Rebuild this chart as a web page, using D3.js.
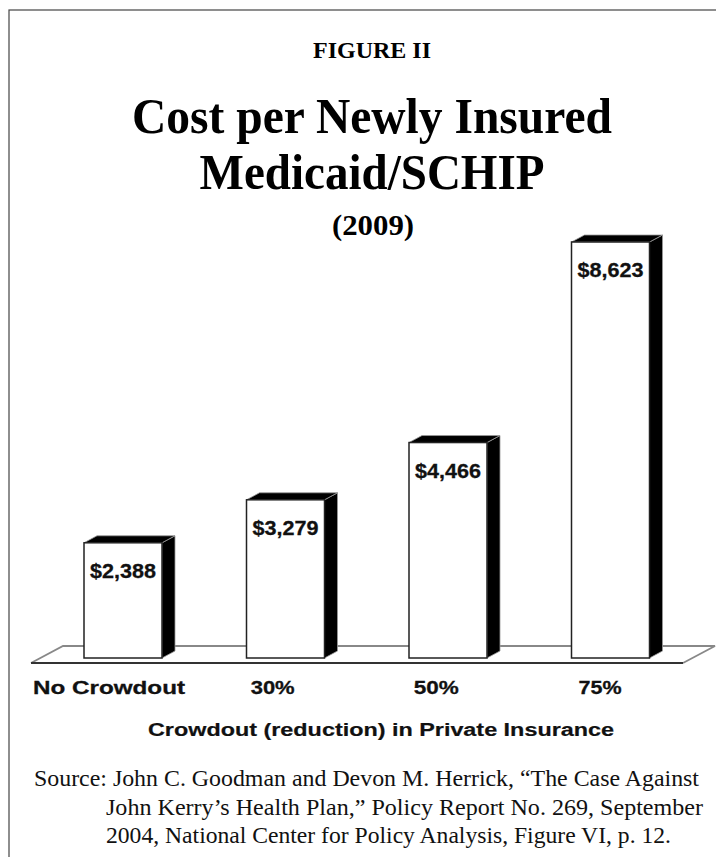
<!DOCTYPE html>
<html>
<head>
<meta charset="utf-8">
<script src="https://cdn.jsdelivr.net/npm/d3@7"></script>
<style>
  html, body { margin: 0; padding: 0; background: #fff; }
  svg { display: block; }
</style>
</head>
<body>
<svg id="chart" width="716" height="857"></svg>
<script>
// ---- data ----
const categories = ["No Crowdout", "30%", "50%", "75%"];
const costs = [2388, 3279, 4466, 8623];
const valueLabels = ["$2,388", "$3,279", "$4,466", "$8,623"];
const figureLabel = "FIGURE II";
const titleLines = ["Cost per Newly Insured", "Medicaid/SCHIP"];
const subtitle = "(2009)";
const xAxisTitle = "Crowdout  (reduction)  in  Private  Insurance";
const sourceLines = [
  "Source: John C. Goodman and Devon M. Herrick, \u201CThe Case Against",
  "John Kerry\u2019s Health Plan,\u201D Policy Report No. 269, September",
  "2004, National Center for Policy Analysis, Figure VI, p. 12."
];

// ---- layout ----
const svg = d3.select("#chart");
const serif = "'Liberation Serif', 'Times New Roman', serif";
const sans = "'Liberation Sans', Arial, sans-serif";
const barW = 78, depthX = 13, depthY = -7;
const baseY = 658;
const cx = 372;

const x = d3.scalePoint().domain(categories).range([123, 610.5]);
const xLab = d3.scalePoint().domain(categories).range([109, 600]);
const y = d3.scaleLinear().domain([0, 8623]).range([baseY, 242]);

// frame
svg.append("rect").attr("x", 9).attr("y", 10).attr("width", 720).attr("height", 860)
  .attr("fill", "none").attr("stroke", "#444").attr("stroke-width", 1.2);

// titles
svg.append("text").attr("x", cx).attr("y", 58).attr("text-anchor", "middle")
  .attr("font-family", serif).attr("font-weight", "bold").attr("font-size", 24)
  .attr("textLength", 118).attr("lengthAdjust", "spacingAndGlyphs").text(figureLabel);
const titleW = [480, 345];
svg.selectAll("text.title").data(titleLines).join("text").attr("class", "title")
  .attr("x", cx).attr("y", (d, i) => 133 + i * 56).attr("text-anchor", "middle")
  .attr("font-family", serif).attr("font-weight", "bold").attr("font-size", 50)
  .attr("textLength", (d, i) => titleW[i]).attr("lengthAdjust", "spacingAndGlyphs")
  .text(d => d);
svg.append("text").attr("x", cx + 1).attr("y", 235).attr("text-anchor", "middle")
  .attr("font-family", serif).attr("font-weight", "bold").attr("font-size", 30)
  .attr("textLength", 82).attr("lengthAdjust", "spacingAndGlyphs")
  .text(subtitle);

// floor
const floorL = 31, floorR = 683, floorFront = 663, floorDX = 32, floorDY = -17;
svg.append("path")
  .attr("d", `M${floorL},${floorFront} L${floorL + floorDX},${floorFront + floorDY} L${floorR + floorDX},${floorFront + floorDY} L${floorR},${floorFront}`)
  .attr("fill", "none").attr("stroke", "#888").attr("stroke-width", 1.8);
svg.append("line").attr("x1", floorL).attr("x2", floorR).attr("y1", floorFront).attr("y2", floorFront)
  .attr("stroke", "#333").attr("stroke-width", 2);

// bars
const g = svg.append("g");
const bars = g.selectAll("g.bar").data(categories.map((c, i) => ({ c, v: costs[i], l: valueLabels[i] })))
  .join("g").attr("class", "bar");

bars.each(function (d) {
  const s = d3.select(this);
  const x0 = x(d.c) - barW / 2, x1 = x(d.c) + barW / 2;
  const yt = y(d.v), yb = y(0);
  s.append("path")
    .attr("d", `M${x1},${yt} L${x1 + depthX},${yt + depthY} L${x1 + depthX},${yb + depthY} L${x1},${yb} Z`)
    .attr("fill", "#000").attr("stroke", "#999").attr("stroke-width", 0.8);
  s.append("path")
    .attr("d", `M${x0},${yt} L${x0 + depthX},${yt + depthY} L${x1 + depthX},${yt + depthY} L${x1},${yt} Z`)
    .attr("fill", "#000").attr("stroke", "#999").attr("stroke-width", 0.8);
  s.append("rect").attr("x", x0).attr("y", yt).attr("width", barW).attr("height", yb - yt)
    .attr("fill", "#fff").attr("stroke", "#222").attr("stroke-width", 1.5);
  s.append("text").attr("x", x(d.c)).attr("y", yt + 35).attr("text-anchor", "middle")
    .attr("font-family", sans).attr("font-weight", "bold").attr("font-size", 21)
    .attr("textLength", 66).attr("lengthAdjust", "spacingAndGlyphs")
    .attr("fill", "#111").attr("stroke", "#111").attr("stroke-width", 0.3).text(d.l);
});

// category labels
const catWidths = [152, 44, 45, 43];
svg.selectAll("text.cat").data(categories).join("text").attr("class", "cat")
  .attr("x", d => xLab(d)).attr("y", 694).attr("text-anchor", "middle")
  .attr("font-family", sans).attr("font-weight", "bold").attr("font-size", 19)
  .attr("textLength", (d, i) => catWidths[i]).attr("lengthAdjust", "spacingAndGlyphs")
  .attr("fill", "#111").attr("stroke", "#111").attr("stroke-width", 0.3).text(d => d);

// axis title
svg.append("text").attr("x", 381).attr("y", 736).attr("text-anchor", "middle")
  .attr("font-family", sans).attr("font-weight", "bold").attr("font-size", 17.5)
  .attr("textLength", 466).attr("lengthAdjust", "spacingAndGlyphs")
  .attr("fill", "#111").attr("stroke", "#111").attr("stroke-width", 0.2).text(xAxisTitle);

// source
const srcX = [34, 106, 106], srcW = [665, 597, 565];
svg.selectAll("text.src").data(sourceLines).join("text").attr("class", "src")
  .attr("x", (d, i) => srcX[i]).attr("y", (d, i) => 786 + i * 28.5)
  .attr("font-family", serif).attr("font-size", 24)
  .attr("textLength", (d, i) => srcW[i]).attr("lengthAdjust", "spacingAndGlyphs")
  .attr("fill", "#111").text(d => d);
</script>
</body>
</html>
